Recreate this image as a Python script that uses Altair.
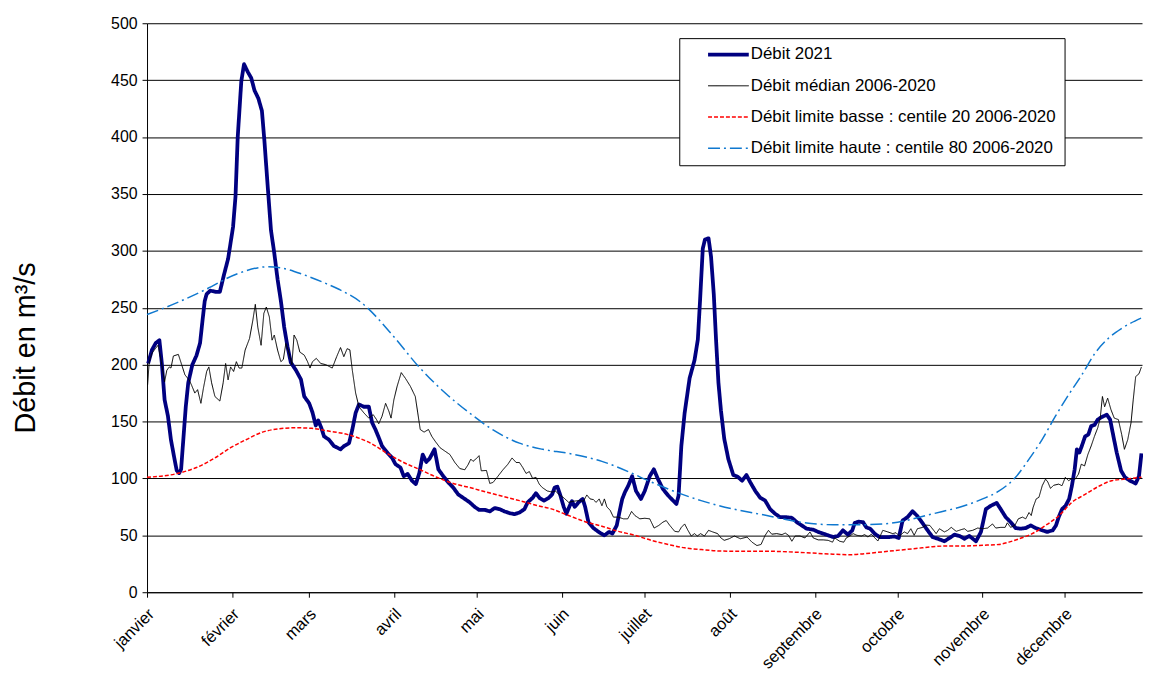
import json
import altair as alt
import pandas as pd

# ---- axis categories -------------------------------------------------------
MONTHS = ["janvier", "février", "mars", "avril", "mai", "juin", "juillet",
          "août", "septembre", "octobre", "novembre", "décembre"]
MONTH_START = [0, 31, 59, 90, 120, 151, 181, 212, 243, 273, 304, 334]
Y_TICKS = [0, 50, 100, 150, 200, 250, 300, 350, 400, 450, 500]

SERIES = ["Débit 2021",
          "Débit médian 2006-2020",
          "Débit limite basse : centile 20 2006-2020",
          "Débit limite haute : centile 80 2006-2020"]

# ---- Débit 2021 ------------------------------------------------------------
days_2021 = [0.4, 1.8, 3.2, 4.5, 5.4, 6.4, 7.6, 8.7, 10.0, 10.8, 11.7, 12.4, 13.2, 14.1, 15.0,
             16.5, 18.0, 19.3, 20.2, 21.0, 21.7, 23.0, 25.0, 26.5, 28.0, 29.5, 31.3, 32.2, 33.0,
             34.3, 35.3, 36.7, 37.9, 39.1, 40.5, 41.8, 42.7, 43.9, 45.1, 46.3, 47.5, 48.7, 49.9,
             51.1, 52.3, 54.2, 56.0, 57.2, 59.0, 60.2, 61.4, 62.3, 63.4, 64.4, 66.2, 68.0, 70.4,
             71.7, 73.5, 74.7, 75.9, 77.1, 78.9, 80.7, 81.9, 83.1, 84.3, 85.5, 87.4, 89.2, 90.4,
             92.2, 93.4, 94.8, 96.4, 97.8, 99.1, 100.3, 101.6, 102.8, 104.6, 106.0, 107.8, 109.6,
             111.4, 113.2, 115.6, 117.4, 119.2, 120.8, 122.9, 124.7, 126.5, 128.3, 130.1, 131.9,
             133.7, 135.5, 137.3, 138.5, 140.3, 141.5, 142.9, 144.4, 146.2, 147.4, 148.3, 149.3,
             150.4, 151.6, 152.6, 153.8, 154.6, 155.6, 157.0, 158.5, 159.4, 160.6, 162.4, 164.3,
             166.4, 168.1, 169.3, 170.9, 172.1, 172.9, 173.9, 175.1, 176.5, 177.9, 179.7, 181.1,
             182.9, 184.4, 185.9, 187.7, 189.6, 191.4, 192.6, 193.4, 194.4, 195.6, 197.4, 199.2,
             200.4, 201.2, 202.2, 203.0, 204.3, 205.2, 206.2, 207.0, 207.9, 208.8, 210.0, 211.5,
             213.3, 214.9, 216.5, 218.1, 219.5, 221.3, 223.1, 224.9, 226.7, 228.5, 230.3, 232.2,
             234.6, 236.4, 238.2, 240.0, 242.4, 244.2, 246.0, 247.8, 249.6, 251.4, 253.2, 255.0,
             256.6, 257.5, 259.0, 260.5, 261.7, 263.1, 264.7, 266.5, 268.3, 270.1, 271.9, 273.5,
             274.9, 276.7, 278.5, 280.1, 281.9, 284.0, 285.8, 287.7, 290.1, 292.0, 293.8, 295.6,
             297.4, 299.2, 301.6, 303.4, 305.2, 307.0, 309.1, 310.6, 312.4, 314.2, 316.0, 317.8,
             319.7, 321.5, 323.3, 325.7, 327.5, 329.5, 330.7, 331.7, 332.9, 334.2, 335.5, 336.5,
             337.5, 338.3, 339.2, 340.1, 341.3, 342.5, 343.5, 344.7, 345.9, 347.4, 349.2, 350.4,
             351.6, 352.8, 354.4, 355.8, 357.6, 359.7, 360.9, 361.8]
q_2021 = [201, 213, 219, 221.5, 201, 169, 155, 134, 117, 107, 104.7, 108, 134, 163, 184,
          200, 208, 219, 239, 256, 262, 265, 264, 264, 279, 293, 321, 348, 400,
          449, 464, 457, 452, 441, 434, 423, 397, 357, 318, 298, 275, 256, 233,
          216, 202, 195, 187, 172, 166, 158, 146.5, 151, 144.5, 137, 134, 128.5, 125.6,
          128.5, 131, 143, 157.6, 165, 163, 163, 149, 143, 136, 128.5, 122.7, 118, 112.5,
          109.6, 102, 104, 98, 95, 105, 121, 114.5, 117.4, 125.6, 108, 102, 96.5,
          92, 86, 82, 79, 75, 72.4, 72.4, 71, 74, 73, 71, 69.5,
          68.6, 70, 73, 79, 83, 87, 82.6, 80.5, 83, 86, 92, 92.7,
          85, 75, 69, 76, 80, 75, 79, 82, 75, 61.6, 56.4, 53,
          50, 53, 51.5, 58.7, 73, 82, 88, 93.6, 102, 89, 82, 89,
          102, 108, 99.4, 90.7, 85, 80.5, 77.6, 85, 128.5, 157.6, 188, 204,
          222, 256, 302, 310, 311, 295, 262, 223, 184, 160, 135, 117,
          103, 101.5, 98, 103, 96.5, 89, 83, 80.5, 73, 69, 66, 66,
          65.4, 61.6, 58.7, 55.8, 55, 53, 51.5, 50, 48.5, 49.4, 54.4, 50.6,
          54.4, 61, 62, 61.6, 57, 55.8, 51.5, 48.5, 48.5, 48.5, 49, 47.7,
          63, 66, 71.2, 67.4, 61.6, 54.4, 48.5, 47, 44.8, 47.7, 50.6, 49.4,
          47, 49.4, 44.8, 53, 73, 76, 78.5, 73, 66, 61.6, 56.4, 55.8,
          56.4, 58.7, 56.4, 54.4, 53, 54.4, 58.7, 66, 73, 76, 82, 93.6,
          108, 125.6, 122.7, 128.5, 137, 138.7, 146, 147, 151.7, 154, 156, 151.7,
          137, 122.7, 106.7, 101, 98, 95.6, 102, 122]

# ---- Débit médian 2006-2020 -----------------------------------------------
days_med = [0.2, 0.8, 1.8, 3.0, 4.0, 5.2, 6.4, 7.2, 8.1, 8.7, 9.6, 11.4, 12.6, 13.8, 15.3,
            16.2, 17.4, 18.4, 19.6, 20.5, 21.7, 22.5, 23.5, 24.7, 26.5, 27.7, 28.6, 29.5, 30.4,
            31.5, 32.5, 33.5, 34.5, 35.7, 37.3, 38.5, 39.4, 40.3, 41.5, 42.5, 43.4, 44.5, 45.5,
            46.3, 47.5, 48.7, 49.6, 50.5, 51.7, 52.7, 53.5, 54.5, 55.6, 57.2, 58.4, 59.3, 60.2,
            61.6, 63.2, 65.0, 67.4, 69.0, 70.4, 71.6, 72.8, 73.8, 74.7, 75.9, 77.1, 78.9, 80.7,
            82.3, 83.5, 84.3, 85.5, 86.8, 88.0, 88.8, 89.8, 91.0, 92.5, 94.0, 95.8, 97.6, 98.5,
            99.4, 100.8, 102.4, 103.6, 104.8, 106.6, 108.4, 110.2, 112.0, 113.8, 115.6, 116.8,
            117.8, 118.6, 119.8, 120.8, 121.6, 123.5, 124.7, 125.9, 127.7, 129.5, 131.3, 132.8,
            134.3, 135.5, 136.7, 137.9, 139.1, 140.3, 141.5, 142.7, 143.8, 145.6, 147.4, 148.6,
            149.8, 151.6, 153.4, 155.2, 157.0, 158.8, 160.0, 161.2, 162.4, 163.4, 164.5, 165.5,
            166.4, 167.3, 168.5, 169.7, 171.5, 173.3, 174.9, 176.3, 177.5, 179.3, 181.1, 182.9,
            184.5, 186.2, 187.7, 188.9, 190.2, 192.0, 193.4, 194.4, 195.6, 196.8, 198.0, 199.2,
            200.2, 201.4, 202.8, 204.3, 205.8, 207.6, 208.8, 210.0, 211.8, 213.7, 215.9, 218.3,
            220.1, 221.9, 223.4, 224.9, 226.1, 227.3, 229.1, 231.0, 232.2, 233.4, 234.6, 235.8,
            237.6, 239.4, 241.2, 242.4, 244.2, 246.0, 247.8, 249.4, 250.2, 252.0, 253.5, 254.4,
            255.7, 256.9, 258.3, 259.9, 261.1, 262.3, 263.5, 264.7, 265.9, 267.7, 269.5, 271.3,
            272.5, 273.7, 275.5, 276.7, 277.9, 279.1, 280.3, 282.2, 283.4, 284.8, 286.4, 287.1,
            288.3, 290.1, 291.3, 292.6, 294.4, 296.2, 297.4, 298.6, 300.4, 302.2, 304.0, 305.8,
            307.6, 308.8, 310.6, 312.2, 313.0, 314.2, 315.8, 317.0, 318.5, 319.7, 320.9, 321.7,
            322.4, 323.5, 324.5, 325.7, 326.9, 327.7, 328.7, 329.9, 331.7, 332.9, 334.1, 335.3,
            336.5, 337.7, 338.9, 339.9, 341.1, 342.3, 343.5, 344.7, 345.9, 346.8, 347.6, 348.4,
            349.5, 350.7, 351.9, 353.4, 354.6, 355.6, 356.8, 358.0, 358.8, 359.7, 360.9, 361.8]
q_med = [182, 202.6, 210, 214, 217, 202.6, 185, 195, 198, 197, 207.6, 209, 200, 191, 186.6,
         182, 175, 178, 166, 179, 194, 198, 184, 172, 168, 184, 201, 186.6, 198,
         194, 202.6, 197, 197, 212.8, 223, 239, 253, 233, 217, 245, 250.6, 242, 221.5,
         226, 212.8, 202.6, 204.6, 218.6, 210, 200, 226, 221.5, 211, 208.4, 202.6, 197, 202.6,
         205.5, 201, 200, 197, 207, 215, 207, 214, 213, 195, 175, 163, 157.6, 153,
         156, 151.7, 148, 154.6, 166, 159, 153, 169, 181, 193, 188, 181, 172, 157.6,
         143, 140.7, 143, 137, 132.8, 127, 124, 121, 114, 108.7, 107.6, 112,
         117, 115, 117.4, 120, 106.7, 107, 95.6, 96.5, 102, 107.6, 112.5, 118,
         114, 114, 109.6, 104.4, 106, 100, 101, 95, 92, 89, 88, 89,
         86, 83, 79, 80, 80.5, 80, 85.5, 82, 81.4, 79, 82, 76,
         82, 75, 72, 66, 66, 64.5, 64.5, 71, 67.4, 64.5, 65, 64.5,
         56.4, 58.7, 61.6, 63, 58.7, 53.5, 53, 57, 60, 54.4, 49.4, 51.5,
         49.4, 51.5, 49.4, 54.4, 53, 51.5, 47.7, 45.6, 47, 49.4, 47, 48.5,
         44, 41, 42, 50, 54.4, 51, 51.5, 50.6, 52, 50, 44.8, 49.4,
         49.4, 47.7, 53, 47.7, 46, 46, 45.6, 44, 47.7, 44.8, 44, 47.7,
         49.4, 51.5, 50, 49.4, 50.6, 48.5, 51, 48, 45, 54.4, 53, 51.5,
         52.3, 49.4, 53, 51.5, 55.8, 50, 55.8, 57, 59, 58.7, 53.8, 51.5,
         55.8, 53, 54.4, 57, 53.5, 55, 55.8, 53.5, 54.4, 56.4, 55.8, 56.4,
         60, 56.4, 57, 57, 61, 57, 59, 64.5, 66, 64.5, 70, 67.4,
         74.7, 82, 83.4, 93.6, 99.4, 97, 91.3, 94, 95, 93.6, 101, 98,
         100, 99.4, 103.8, 112.5, 111, 121, 128.5, 137, 144.5, 153, 172, 163,
         170.6, 160.5, 153, 151.7, 138.7, 125.6, 134, 148.8, 169, 189.5, 192, 198]

# ---- Débit limite basse : centile 20 --------------------------------------
days_c20 = [0, 11.7, 18, 24.7, 30.4, 36, 42, 48, 54, 60, 66, 72.8, 81.3, 87.4, 93.4, 99.4,
            105.4, 111.4, 117.4, 123.5, 129.5, 135.5, 141.5, 147.4, 153.4, 159.4, 165.5,
            171.5, 177.5, 183.5, 189.6, 195.6, 201.6, 207.6, 213.7, 225.5, 237.6, 249.6,
            255.7, 261.7, 267.7, 273.7, 279.7, 285.8, 291.9, 298, 304, 310, 313.6, 317.3,
            322.1, 326.9, 331.7, 336.5, 341.3, 346.2, 351, 355.8, 361.8]
q_c20 = [101, 104.7, 109.6, 118, 127, 134, 140.7, 143.6, 144.5, 144, 141.6, 138.7, 131, 122, 114, 107.6,
         101, 95.6, 92, 88, 84.3, 80.5, 76.5, 73, 67.4, 62, 58,
         53.5, 50, 45.6, 42, 39, 37.5, 36.3, 36, 36, 35, 33.4,
         33, 34, 35.5, 37, 38.4, 40, 40.7, 40.7, 41.3, 42, 44, 47,
         51.5, 58.7, 67, 79, 86, 93, 98, 99.4, 101]

# ---- Débit limite haute : centile 80 --------------------------------------
days_c80 = [0, 9, 21, 33, 44, 48.7, 57, 64.4, 70, 77.7, 89.8, 98.2, 109, 117.4, 125.9, 135.5,
            143.9, 153.4, 165.5, 176.3, 181.1, 189.6, 201.6, 213.5, 225.5, 237.6, 249.6, 259.3,
            267.7, 276.1, 283.4, 289.4, 295.6, 304, 310, 316, 320.9, 325.7, 330.5, 335.3,
            340.1, 344.9, 349.7, 354.5, 361.8]
q_c80 = [244, 252.5, 265.6, 280, 286, 285, 279, 272, 266, 255, 224.6, 200, 174, 157.4, 142.6, 131,
         125.6, 122, 115, 104.7, 99.4, 90.7, 80.5, 73, 67.4, 61.6, 59.3, 59.3,
         60, 63, 67.4, 71, 74.7, 82, 89, 101, 117, 134.3, 154.7, 173.5,
         191, 210, 223, 231.7, 241]


def frame(name, days, vals):
    return pd.DataFrame({"jour": days, "debit": vals, "serie": name})


df_main = pd.concat([frame(SERIES[0], days_2021, q_2021),
                     frame(SERIES[1], days_med, q_med)], ignore_index=True)
df_lim = pd.concat([frame(SERIES[2], days_c20, q_c20),
                    frame(SERIES[3], days_c80, q_c80)], ignore_index=True)

FONT = "Liberation Sans"
label_expr = "{}[indexof({}, datum.value)]".format(json.dumps(MONTHS), json.dumps(MONTH_START))

x_enc = alt.X("jour:Q",
              scale=alt.Scale(domain=[0, 362], nice=False, zero=False),
              axis=alt.Axis(values=MONTH_START, labelExpr=label_expr, labelAngle=-45,
                            labelAlign="right", labelBaseline="middle", labelPadding=14,
                            labelOffset=4,
                            labelFlush=False, labelOverlap=False, labelBound=False,
                            grid=False, tickSize=5, tickColor="black", domainColor="black",
                            labelFont=FONT, labelFontSize=16.5, labelColor="black", title=None))
y_enc = alt.Y("debit:Q",
              scale=alt.Scale(domain=[0, 500], nice=False),
              axis=alt.Axis(values=Y_TICKS, grid=True, gridColor="black", gridWidth=1,
                            tickSize=5, tickColor="black", domainColor="black",
                            labelFont=FONT, labelFontSize=16, labelColor="black", labelPadding=5,
                            title="Débit en m³/s", titleFont=FONT, titleFontSize=29,
                            titleFontWeight="normal", titleColor="black",
                            titleX=-113.5, titleY=326.5, titleAngle=270,
                            titleAlign="center", titleBaseline="alphabetic"))

legend = alt.Legend(title=None, orient="none", legendX=536, legendY=15, direction="vertical",
                    fillColor="white", strokeColor="black", padding=8,
                    symbolType="stroke", symbolSize=1681, clipHeight=17, rowPadding=13.5,
                    symbolOffset=19, labelOffset=0, labelLimit=500,
                    labelFont=FONT, labelFontSize=17, labelColor="black")

color_enc = alt.Color("serie:N", scale=alt.Scale(domain=SERIES,
                      range=["#000080", "#000000", "#FF0000", "#0F78CF"]), legend=legend)
dash_enc = alt.StrokeDash("serie:N", scale=alt.Scale(domain=SERIES,
                          range=[[1, 0], [1, 0], [4, 2], [12, 4, 2, 4]]), legend=legend)
width_enc = alt.StrokeWidth("serie:N", scale=alt.Scale(type="ordinal", domain=SERIES,
                            range=[3.8, 1, 1.5, 1.5]), legend=legend)

main = alt.Chart(df_main).mark_line(strokeJoin="round").encode(
    x=x_enc, y=y_enc, color=color_enc, strokeDash=dash_enc, strokeWidth=width_enc)
limits = alt.Chart(df_lim).mark_line(interpolate="monotone").encode(
    x=x_enc, y=y_enc, color=color_enc, strokeDash=dash_enc, strokeWidth=width_enc)

chart = alt.layer(main, limits).properties(
    width=1002, height=573,
    padding={"left": 140, "top": 13, "right": 1, "bottom": 80},
    autosize=alt.AutoSizeParams(type="none"),
    background="white",
).configure_view(strokeWidth=0)

chart.save("out.html", embed_options={"renderer": "svg", "actions": False})
